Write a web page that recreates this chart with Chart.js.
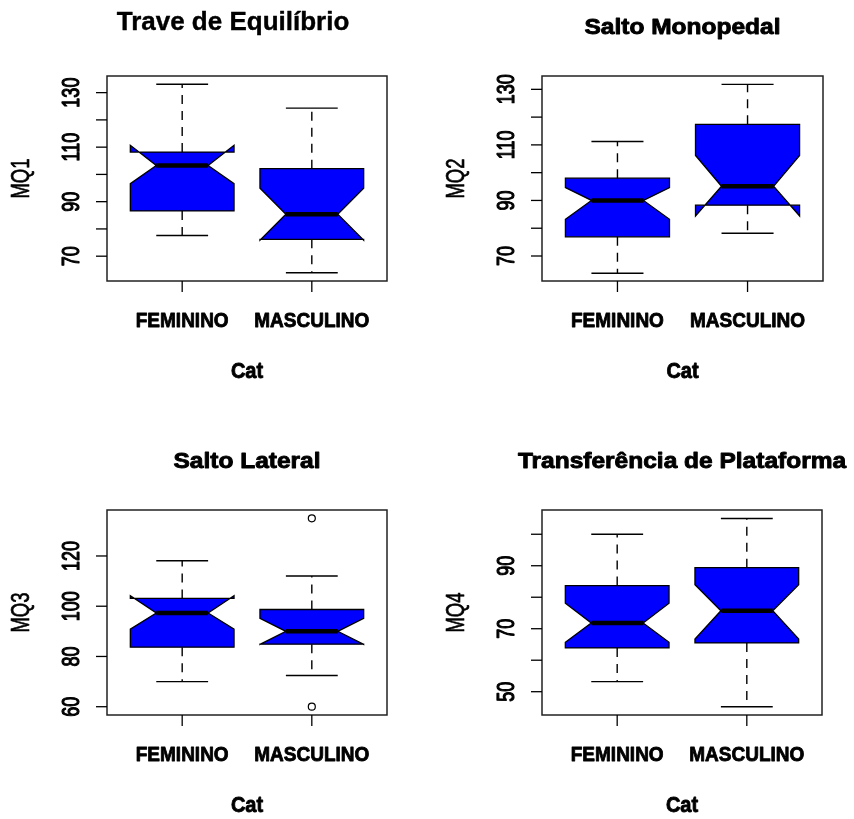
<!DOCTYPE html>
<html>
<head>
<meta charset="utf-8">
<script src="https://cdn.jsdelivr.net/npm/chart.js@4/dist/chart.umd.min.js"></script>
<style>
  html, body { margin: 0; padding: 0; background: #fff; overflow: hidden; }
  canvas { position: absolute; }
</style>
</head>
<body>
<canvas id="p0" width="427" height="410" style="left:0;top:0"></canvas>
<canvas id="p1" width="427" height="410" style="left:427px;top:0"></canvas>
<canvas id="p2" width="427" height="410" style="left:0;top:410px"></canvas>
<canvas id="p3" width="427" height="410" style="left:427px;top:410px"></canvas>
<script>
// notched boxplots, one panel per test
const categories = ["FEMININO", "MASCULINO"];
const titles = ["Trave de Equilíbrio", "Salto Monopedal", "Salto Lateral", "Transferência de Plataforma"];
const yAxisLabels = ["MQ1", "MQ2", "MQ3", "MQ4"];
const xAxisLabel = "Cat";

// per panel: [FEMININO, MASCULINO]
const lowerWhisker = [[77.6, 63.9], [63.8, 78.2], [70.0, 72.4], [53.2, 45.2]];
const q1 =           [[86.6, 76.2], [76.9, 88.3], [83.7, 84.9], [63.9, 65.5]];
const medians =      [[103.3, 85.4], [90.0, 95.1], [97.3, 90.0], [71.8, 75.7]];
const q3 =           [[108.2, 102.1], [98.0, 117.4], [103.1, 98.7], [83.7, 89.4]];
const upperWhisker = [[133.1, 124.3], [111.2, 131.8], [118.1, 112.0], [100.0, 105.0]];
const notchLow =     [[96.6, 75.9], [83.2, 84.4], [90.9, 84.8], [65.7, 66.7]];
const notchHigh =    [[110.7, 94.9], [94.6, 106.2], [104.2, 95.2], [78.1, 84.0]];
const outliers =     [[[], []], [[], []], [[], [135.0, 60.0]], [[], []]];

const yMin = [60.9, 61.0, 56.7, 42.6];
const yMax = [136.1, 134.8, 138.3, 107.7];
const yTickValues = [
  [70, 80, 90, 100, 110, 120, 130],
  [70, 80, 90, 100, 110, 120, 130],
  [60, 80, 100, 120],
  [50, 60, 70, 80, 90, 100]
];
const yTickLabels = [
  ["70", "", "90", "", "110", "", "130"],
  ["70", "", "90", "", "110", "", "130"],
  ["60", "80", "100", "120"],
  ["50", "", "70", "", "90", ""]
];

const paddings = [
  { left: 107, right: 40, top: 76, bottom: 129 },
  { left: 115, right: 31, top: 76, bottom: 129 },
  { left: 107, right: 40, top: 100, bottom: 105 },
  { left: 115, right: 32, top: 100, bottom: 105 }
];

const BOX_HALF = 0.4;   // boxwex 0.8
const FILL = "#0000ff";
const FONT = "'Liberation Sans', Arial, sans-serif";

function drawText(ctx, s, x, y, font, sx, sy, rot, heavy) {
  ctx.save();
  ctx.translate(x, y);
  if (rot) ctx.rotate(rot);
  ctx.scale(sx, sy);
  ctx.font = font;
  ctx.fillStyle = "#000";
  ctx.textAlign = "center";
  ctx.textBaseline = "middle";
  ctx.fillText(s, 0, 0);
  if (heavy) {
    ctx.strokeStyle = "#000";
    ctx.lineWidth = heavy;
    ctx.lineJoin = "round";
    ctx.strokeText(s, 0, 0);
  }
  ctx.restore();
}

const boxPlugin = {
  id: "notchedBox",
  beforeDatasetsDraw(chart) {
    const p = chart.options.panel;
    const ctx = chart.ctx;
    const xs = chart.scales.x, ys = chart.scales.y;
    categories.forEach((c, i) => {
      const cx = i + 1;
      const xl = xs.getPixelForValue(cx - BOX_HALF), xr = xs.getPixelForValue(cx + BOX_HALF);
      const xil = xs.getPixelForValue(cx - BOX_HALF / 2), xir = xs.getPixelForValue(cx + BOX_HALF / 2);
      const xc = xs.getPixelForValue(cx);
      const yq1 = ys.getPixelForValue(q1[p][i]), yq3 = ys.getPixelForValue(q3[p][i]);
      const ym = ys.getPixelForValue(medians[p][i]);
      const ynl = ys.getPixelForValue(notchLow[p][i]), ynh = ys.getPixelForValue(notchHigh[p][i]);
      const ylw = ys.getPixelForValue(lowerWhisker[p][i]), yuw = ys.getPixelForValue(upperWhisker[p][i]);

      // whiskers
      ctx.save();
      ctx.strokeStyle = "#000";
      ctx.lineWidth = 1.4;
      ctx.setLineDash([9, 7]);
      ctx.beginPath();
      ctx.moveTo(xc, yq3); ctx.lineTo(xc, yuw);
      ctx.moveTo(xc, yq1); ctx.lineTo(xc, ylw);
      ctx.stroke();
      ctx.setLineDash([]);
      ctx.beginPath();
      ctx.moveTo(xil, yuw); ctx.lineTo(xir, yuw);
      ctx.moveTo(xil, ylw); ctx.lineTo(xir, ylw);
      ctx.stroke();

      // notched box
      ctx.beginPath();
      ctx.moveTo(xl, yq1);
      ctx.lineTo(xl, ynl);
      ctx.lineTo(xil, ym);
      ctx.lineTo(xl, ynh);
      ctx.lineTo(xl, yq3);
      ctx.lineTo(xr, yq3);
      ctx.lineTo(xr, ynh);
      ctx.lineTo(xir, ym);
      ctx.lineTo(xr, ynl);
      ctx.lineTo(xr, yq1);
      ctx.closePath();
      ctx.fillStyle = FILL;
      ctx.fill();
      ctx.lineWidth = 1.3;
      ctx.stroke();

      // median
      ctx.lineWidth = 4.5;
      ctx.beginPath();
      ctx.moveTo(xil, ym); ctx.lineTo(xir, ym);
      ctx.stroke();
      ctx.restore();
    });
  },
  afterDraw(chart) {
    const p = chart.options.panel;
    const ctx = chart.ctx;
    const a = chart.chartArea;
    const xs = chart.scales.x, ys = chart.scales.y;
    ctx.save();
    ctx.strokeStyle = "#222";
    ctx.lineWidth = 1.5;
    ctx.strokeRect(a.left, a.top, a.right - a.left, a.bottom - a.top);

    // y axis ticks
    ctx.lineWidth = 1.3;
    ctx.strokeStyle = "#000";
    yTickValues[p].forEach((v, k) => {
      const y = ys.getPixelForValue(v);
      ctx.beginPath();
      ctx.moveTo(a.left, y); ctx.lineTo(a.left - 11, y);
      ctx.stroke();
      if (yTickLabels[p][k]) drawText(ctx, yTickLabels[p][k], a.left - 34.5, y, "18px " + FONT, 1, 1.35, -Math.PI / 2, 0.9);
    });
    // x axis ticks
    categories.forEach((c, i) => {
      const x = xs.getPixelForValue(i + 1);
      ctx.beginPath();
      ctx.moveTo(x, a.bottom); ctx.lineTo(x, a.bottom + 11);
      ctx.stroke();
      drawText(ctx, c, x, a.bottom + 40.5, "bold 19px " + FONT, 1, 1.1, 0, 0.8);
    });
    const midX = (a.left + a.right) / 2;
    drawText(ctx, xAxisLabel, midX, a.bottom + 90.5, "bold 20px " + FONT, 1, 1.1, 0, 0.8);
    drawText(ctx, yAxisLabels[p], a.left - 84.5, (a.top + a.bottom) / 2, "18.5px " + FONT, 1, 1.35, -Math.PI / 2, 0.5);

    if (p === 0) {
      drawText(ctx, titles[p], 233, 23, "bold 26px " + FONT, 1, 1, 0, 0.4);
    } else {
      drawText(ctx, titles[p], midX, a.top - 48.5, "bold 24.5px " + FONT, 1, 0.9, 0, 1);
    }
    ctx.restore();
  }
};

function makePanel(p) {
  const pts = [];
  outliers[p].forEach((vals, i) => vals.forEach(v => pts.push({ x: i + 1, y: v })));
  new Chart(document.getElementById("p" + p), {
    type: "scatter",
    data: {
      datasets: [{
        data: pts,
        pointStyle: "circle",
        pointRadius: 3.5,
        borderColor: "#000",
        backgroundColor: "rgba(0,0,0,0)",
        borderWidth: 1.2
      }]
    },
    options: {
      panel: p,
      responsive: false,
      animation: false,
      devicePixelRatio: 1,
      layout: { padding: paddings[p] },
      plugins: { legend: { display: false }, title: { display: false }, tooltip: { enabled: false } },
      scales: {
        x: { type: "linear", min: 0.42, max: 2.58, display: false },
        y: { type: "linear", min: yMin[p], max: yMax[p], display: false }
      }
    },
    plugins: [boxPlugin]
  });
}

[0, 1, 2, 3].forEach(makePanel);
</script>
</body>
</html>
